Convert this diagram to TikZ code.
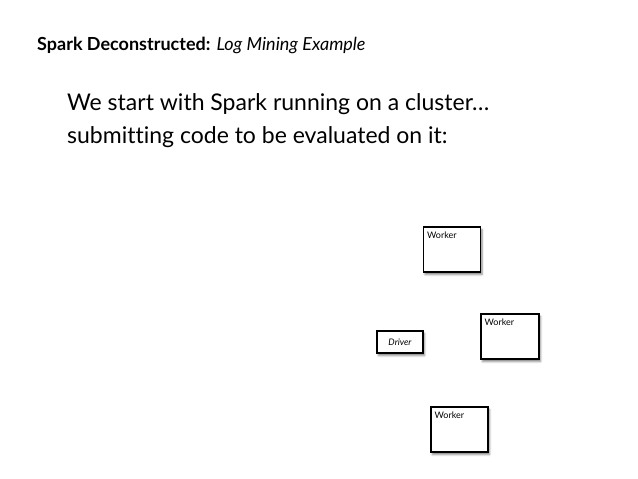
\documentclass[tikz,border=0pt]{standalone}
\usepackage{fontspec}
\setmainfont{Lato}[Ligatures=NoCommon]
\usetikzlibrary{shadows.blur}

\begin{document}
\begin{tikzpicture}[x=1pt, y=-1pt,
    box/.style={draw, line width=1.1pt, fill=white, inner sep=0pt,
      blur shadow={shadow xshift=1.5pt, shadow yshift=-2.5pt, shadow blur radius=2pt, shadow opacity=50}},
    worker/.style={box, minimum width=57pt, minimum height=45pt,
      label={[anchor=north west, font=\fontsize{9}{10}\selectfont, inner sep=0pt, xshift=4pt, yshift=-5pt]north west:Worker}},
    driver/.style={box, minimum width=46pt, minimum height=22pt,
      font=\fontsize{9}{10}\selectfont\itshape}]
    \useasboundingbox (0,0) rectangle (638,479);

    % Titel
    \node[anchor=base west, inner sep=0pt, font=\fontsize{18}{20}\selectfont] (title) at (37,50)
        {\textbf{Spark Deconstructed:} \textit{Log Mining Example}};

    % Text
    \node[anchor=base west, inner sep=0pt, font=\fontsize{23}{27}\selectfont] (line1) at (67,110)
        {We start with Spark running on a cluster…};
    \node[anchor=base west, inner sep=0pt, font=\fontsize{23}{27}\selectfont] (line2) at (67,143)
        {submitting code to be evaluated on it:};

    % Cluster
    \node[worker] (w1) at (452,249.5) {};
    \node[worker, minimum width=58pt] (w2) at (510,336.5) {};
    \node[driver] (drv) at (400,342) {Driver};
    \node[worker] (w3) at (459.5,429.5) {};
\end{tikzpicture}
\end{document}
